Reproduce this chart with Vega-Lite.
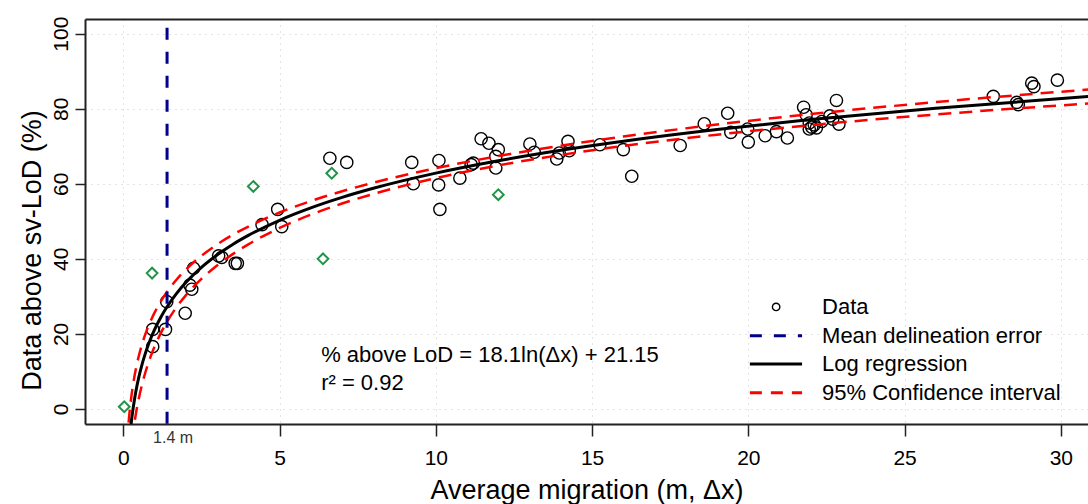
{
  "$schema": "https://vega.github.io/schema/vega-lite/v6.json",
  "width": 1003,
  "height": 405,
  "autosize": {"type": "none"},
  "padding": {"left": 85, "top": 19, "right": 0, "bottom": 80},
  "background": "white",
  "config": {"view": {"stroke": null}, "font": "Liberation Sans"},
  "datasets": {
    "circles": [
      {"x": 0.94, "y": 16.6}, {"x": 0.94, "y": 21.2}, {"x": 1.35, "y": 21.2}, {"x": 1.39, "y": 28.6},
      {"x": 1.98, "y": 25.5}, {"x": 2.13, "y": 33.0}, {"x": 2.19, "y": 31.9}, {"x": 2.25, "y": 37.5},
      {"x": 3.05, "y": 40.8}, {"x": 3.15, "y": 40.4}, {"x": 3.58, "y": 38.8}, {"x": 3.65, "y": 38.8},
      {"x": 4.44, "y": 49.1}, {"x": 4.94, "y": 53.2}, {"x": 5.07, "y": 48.6}, {"x": 6.61, "y": 66.8},
      {"x": 7.15, "y": 65.7}, {"x": 9.23, "y": 65.7}, {"x": 9.28, "y": 60.0}, {"x": 10.1, "y": 66.2},
      {"x": 10.09, "y": 59.7}, {"x": 10.13, "y": 53.2}, {"x": 10.77, "y": 61.5}, {"x": 11.13, "y": 65.1},
      {"x": 11.2, "y": 65.5}, {"x": 11.45, "y": 72.0}, {"x": 11.7, "y": 70.8}, {"x": 12.0, "y": 69.1},
      {"x": 11.92, "y": 67.3}, {"x": 11.92, "y": 64.2}, {"x": 13.01, "y": 70.6}, {"x": 13.15, "y": 68.4},
      {"x": 13.87, "y": 66.6}, {"x": 13.95, "y": 68.2}, {"x": 14.23, "y": 71.3}, {"x": 14.27, "y": 68.8},
      {"x": 15.25, "y": 70.4}, {"x": 16.0, "y": 69.1}, {"x": 16.27, "y": 62.0}, {"x": 17.82, "y": 70.2},
      {"x": 18.59, "y": 76.0}, {"x": 19.34, "y": 78.8}, {"x": 19.44, "y": 73.7}, {"x": 19.98, "y": 74.6},
      {"x": 20.0, "y": 71.1}, {"x": 20.54, "y": 72.8}, {"x": 20.9, "y": 73.9}, {"x": 21.25, "y": 72.2},
      {"x": 21.77, "y": 80.4}, {"x": 21.85, "y": 78.4}, {"x": 21.95, "y": 76.2}, {"x": 22.03, "y": 75.1},
      {"x": 22.11, "y": 75.7}, {"x": 21.95, "y": 74.6}, {"x": 22.18, "y": 74.9}, {"x": 22.35, "y": 76.6},
      {"x": 22.61, "y": 78.1}, {"x": 22.7, "y": 77.2}, {"x": 22.82, "y": 82.2}, {"x": 22.9, "y": 75.9},
      {"x": 27.84, "y": 83.3}, {"x": 28.59, "y": 81.7}, {"x": 28.64, "y": 81.1}, {"x": 29.07, "y": 86.8},
      {"x": 29.14, "y": 85.9}, {"x": 29.89, "y": 87.6}
    ],
    "diamonds": [
      {"x": 0.03, "y": 0.6}, {"x": 0.92, "y": 36.2}, {"x": 4.16, "y": 59.3},
      {"x": 6.39, "y": 40.0}, {"x": 6.67, "y": 62.8}, {"x": 12.0, "y": 57.1}
    ],
    "curve": [
      {"x": 0.12, "fit": -17.23, "upper": -9.24, "lower": -25.2},
      {"x": 0.15, "fit": -13.19, "upper": -5.57, "lower": -20.81},
      {"x": 0.2, "fit": -7.98, "upper": -0.83, "lower": -15.13},
      {"x": 0.25, "fit": -3.94, "upper": 2.84, "lower": -10.72},
      {"x": 0.3, "fit": -0.64, "upper": 5.84, "lower": -7.12},
      {"x": 0.35, "fit": 2.15, "upper": 8.38, "lower": -4.08},
      {"x": 0.4, "fit": 4.57, "upper": 10.58, "lower": -1.44},
      {"x": 0.5, "fit": 8.6, "upper": 14.25, "lower": 2.95},
      {"x": 0.6, "fit": 11.9, "upper": 17.25, "lower": 6.55},
      {"x": 0.7, "fit": 14.69, "upper": 19.79, "lower": 9.59},
      {"x": 0.8, "fit": 17.11, "upper": 21.99, "lower": 12.23},
      {"x": 0.9, "fit": 19.24, "upper": 23.93, "lower": 14.55},
      {"x": 1.0, "fit": 21.15, "upper": 25.67, "lower": 16.63},
      {"x": 1.2, "fit": 24.45, "upper": 28.68, "lower": 20.22},
      {"x": 1.4, "fit": 27.24, "upper": 31.22, "lower": 23.26},
      {"x": 1.7, "fit": 30.75, "upper": 34.42, "lower": 27.08},
      {"x": 2.0, "fit": 33.7, "upper": 37.12, "lower": 30.28},
      {"x": 2.5, "fit": 37.74, "upper": 40.81, "lower": 34.67},
      {"x": 3.0, "fit": 41.03, "upper": 43.83, "lower": 38.23},
      {"x": 3.5, "fit": 43.83, "upper": 46.4, "lower": 41.26},
      {"x": 4.0, "fit": 46.24, "upper": 48.61, "lower": 43.87},
      {"x": 5.0, "fit": 50.28, "upper": 52.34, "lower": 48.22},
      {"x": 6.0, "fit": 53.58, "upper": 55.4, "lower": 51.76},
      {"x": 7.0, "fit": 56.37, "upper": 58.01, "lower": 54.73},
      {"x": 8.0, "fit": 58.79, "upper": 60.29, "lower": 57.29},
      {"x": 10.0, "fit": 62.83, "upper": 64.15, "lower": 61.51},
      {"x": 12.0, "fit": 66.13, "upper": 67.37, "lower": 64.89},
      {"x": 14.0, "fit": 68.92, "upper": 70.15, "lower": 67.69},
      {"x": 16.0, "fit": 71.33, "upper": 72.59, "lower": 70.07},
      {"x": 19.0, "fit": 74.44, "upper": 75.79, "lower": 73.09},
      {"x": 22.0, "fit": 77.1, "upper": 78.57, "lower": 75.63},
      {"x": 26.0, "fit": 80.12, "upper": 81.77, "lower": 78.47},
      {"x": 31.0, "fit": 83.31, "upper": 85.17, "lower": 81.45}
    ]
  },
  "layer": [
    {
      "data": {"name": "circles"},
      "mark": {"type": "point", "shape": "circle", "filled": false, "size": 150, "stroke": "black", "strokeWidth": 1.4, "opacity": 1},
      "encoding": {
        "x": {
          "field": "x", "type": "quantitative",
          "scale": {"domain": [-1.226, 30.87], "nice": false, "zero": false},
          "axis": {
            "orient": "bottom", "values": [0, 5, 10, 15, 20, 25, 30],
            "title": "Average migration (m, Δx)",
            "grid": true, "gridColor": "#c8c8c8", "gridDash": [1, 5], "gridWidth": 1,
            "domain": true, "domainColor": "#222", "domainWidth": 2,
            "ticks": true, "tickSize": 12, "tickColor": "#222", "tickWidth": 1.5,
            "labelFont": "Liberation Sans", "labelFontSize": 21, "labelColor": "black",
            "labelPadding": 11, "labelBaseline": "top", "labelFlush": false, "labelOverlap": false,
            "titleFont": "Liberation Sans", "titleFontSize": 27, "titleFontWeight": "normal", "titleColor": "black",
            "titleBaseline": "alphabetic", "titleAlign": "center", "titleX": 501.5, "titleY": 74
          }
        },
        "y": {
          "field": "y", "type": "quantitative",
          "scale": {"domain": [-4, 103.9], "nice": false, "zero": false},
          "axis": {
            "orient": "left", "values": [0, 20, 40, 60, 80, 100],
            "title": "Data above sv-LoD (%)",
            "grid": true, "gridColor": "#c8c8c8", "gridDash": [1, 5], "gridWidth": 1,
            "domain": true, "domainColor": "#222", "domainWidth": 2,
            "ticks": true, "tickSize": 10, "tickColor": "#222", "tickWidth": 1.5,
            "labelFont": "Liberation Sans", "labelFontSize": 21, "labelColor": "black",
            "labelAngle": -90, "labelAlign": "center", "labelBaseline": "alphabetic", "labelPadding": 8,
            "labelOverlap": false,
            "titleFont": "Liberation Sans", "titleFontSize": 27, "titleFontWeight": "normal", "titleColor": "black",
            "titleAngle": -90, "titleBaseline": "alphabetic", "titleAlign": "center", "titleX": -45, "titleY": 231
          }
        }
      }
    },
    {
      "data": {"name": "diamonds"},
      "mark": {"type": "point", "shape": "diamond", "filled": false, "size": 115, "stroke": "#1f9447", "strokeWidth": 2, "opacity": 1},
      "encoding": {
        "x": {"field": "x", "type": "quantitative", "axis": null},
        "y": {"field": "y", "type": "quantitative"}
      }
    },
    {
      "data": {"name": "curve"},
      "mark": {"type": "line", "clip": true, "stroke": "red", "strokeWidth": 2.5, "strokeDash": [13, 8], "interpolate": "monotone"},
      "encoding": {
        "x": {"field": "x", "type": "quantitative", "axis": null},
        "y": {"field": "upper", "type": "quantitative"}
      }
    },
    {
      "data": {"name": "curve"},
      "mark": {"type": "line", "clip": true, "stroke": "red", "strokeWidth": 2.5, "strokeDash": [13, 8], "interpolate": "monotone"},
      "encoding": {
        "x": {"field": "x", "type": "quantitative", "axis": null},
        "y": {"field": "lower", "type": "quantitative"}
      }
    },
    {
      "data": {"name": "curve"},
      "mark": {"type": "line", "clip": true, "stroke": "black", "strokeWidth": 3, "interpolate": "monotone"},
      "encoding": {
        "x": {"field": "x", "type": "quantitative", "axis": null},
        "y": {"field": "fit", "type": "quantitative"}
      }
    },
    {
      "data": {"values": [{"x": 1.4, "ytop": 101.6, "ybot": -4}]},
      "mark": {"type": "rule", "stroke": "#00008B", "strokeWidth": 3, "strokeDash": [12, 12]},
      "encoding": {
        "x": {"field": "x", "type": "quantitative", "axis": null},
        "y": {"field": "ytop", "type": "quantitative"},
        "y2": {"field": "ybot"}
      }
    },
    {
      "data": {"values": [{"x": 1.4, "y": -7.6, "label": "1.4 m"}]},
      "mark": {"type": "text", "align": "center", "baseline": "middle", "dx": 6, "fontSize": 16, "font": "Liberation Sans", "color": "#333"},
      "encoding": {
        "x": {"field": "x", "type": "quantitative", "axis": null},
        "y": {"field": "y", "type": "quantitative"},
        "text": {"field": "label"}
      }
    },
    {
      "data": {"values": [{"x1": 20.05, "x2": 21.72, "y": 19.5}]},
      "mark": {"type": "rule", "stroke": "#00008B", "strokeWidth": 3, "strokeDash": [12, 12]},
      "encoding": {
        "x": {"field": "x1", "type": "quantitative", "axis": null},
        "x2": {"field": "x2"},
        "y": {"field": "y", "type": "quantitative"}
      }
    },
    {
      "data": {"values": [{"x1": 20.05, "x2": 21.72, "y": 12.0}]},
      "mark": {"type": "rule", "stroke": "black", "strokeWidth": 3},
      "encoding": {
        "x": {"field": "x1", "type": "quantitative", "axis": null},
        "x2": {"field": "x2"},
        "y": {"field": "y", "type": "quantitative"}
      }
    },
    {
      "data": {"values": [{"x1": 20.05, "x2": 21.72, "y": 4.3}]},
      "mark": {"type": "rule", "stroke": "red", "strokeWidth": 3, "strokeDash": [12, 9]},
      "encoding": {
        "x": {"field": "x1", "type": "quantitative", "axis": null},
        "x2": {"field": "x2"},
        "y": {"field": "y", "type": "quantitative"}
      }
    },
    {
      "data": {"values": [{"x": 20.89, "y": 27.2}]},
      "mark": {"type": "point", "shape": "circle", "filled": false, "size": 55, "stroke": "black", "strokeWidth": 1.4, "opacity": 1},
      "encoding": {
        "x": {"field": "x", "type": "quantitative", "axis": null},
        "y": {"field": "y", "type": "quantitative"}
      }
    },
    {
      "data": {"values": [
        {"x": 22.36, "y": 27.2, "label": "Data"},
        {"x": 22.36, "y": 19.5, "label": "Mean delineation error"},
        {"x": 22.36, "y": 12.0, "label": "Log regression"},
        {"x": 22.36, "y": 4.3, "label": "95% Confidence interval"}
      ]},
      "mark": {"type": "text", "align": "left", "baseline": "middle", "fontSize": 22, "font": "Liberation Sans", "color": "black"},
      "encoding": {
        "x": {"field": "x", "type": "quantitative", "axis": null},
        "y": {"field": "y", "type": "quantitative"},
        "text": {"field": "label"}
      }
    },
    {
      "data": {"values": [
        {"x": 6.33, "y": 14.4, "label": "% above LoD = 18.1ln(Δx) + 21.15"},
        {"x": 6.33, "y": 6.9, "label": "r² = 0.92"}
      ]},
      "mark": {"type": "text", "align": "left", "baseline": "middle", "fontSize": 22, "font": "Liberation Sans", "color": "black"},
      "encoding": {
        "x": {"field": "x", "type": "quantitative", "axis": {"orient": "top", "labels": false, "ticks": false, "grid": false, "title": null, "domain": true, "domainColor": "#222", "domainWidth": 2}},
        "y": {"field": "y", "type": "quantitative"},
        "text": {"field": "label"}
      }
    }
  ]
}
